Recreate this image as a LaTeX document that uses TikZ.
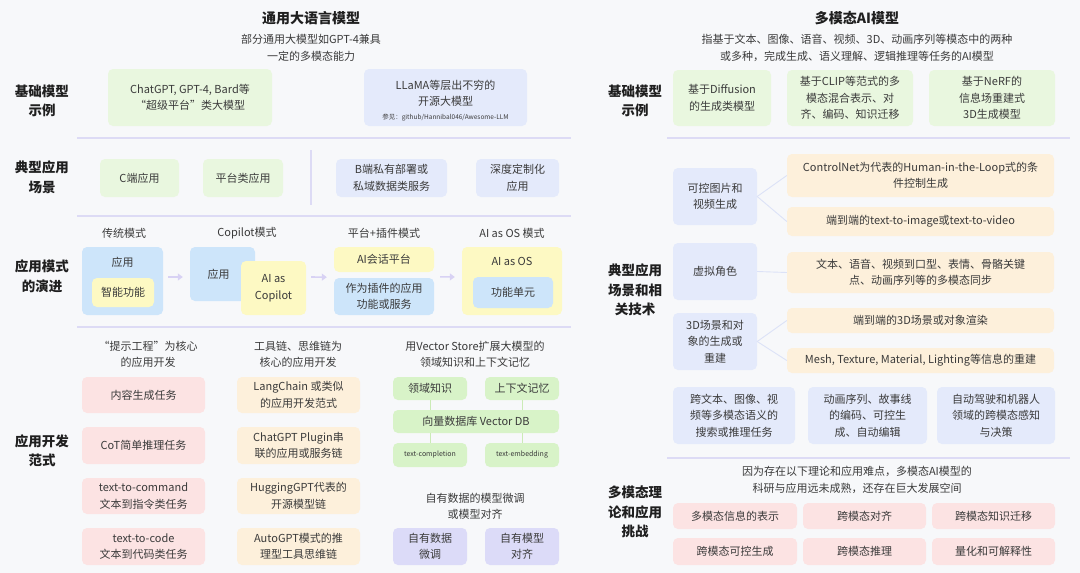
\documentclass[tikz,border=0pt]{standalone}
\usepackage{fontspec}
\setmainfont{Noto Sans CJK SC}
\usetikzlibrary{arrows.meta}
\definecolor{bg}{HTML}{F7F8FA}
\definecolor{gLight}{HTML}{E9F7DF}
\definecolor{bLight}{HTML}{E4EAFB}
\definecolor{mBlue}{HTML}{CDE5FA}
\definecolor{yel}{HTML}{FDF9C3}
\definecolor{pinkc}{HTML}{FCE3E3}
\definecolor{peach}{HTML}{FDF0DB}
\definecolor{vGreen}{HTML}{D8F3C8}
\definecolor{purp}{HTML}{DCDBF8}
\definecolor{divc}{HTML}{DDDBF5}
\definecolor{arrc}{HTML}{D8D2F4}
\definecolor{connc}{HTML}{DCE2F7}
\definecolor{vconn}{HTML}{CBEBB6}
\definecolor{txt}{HTML}{3A3A3A}
\definecolor{dark}{HTML}{1F1F1F}
\newcommand\fsz[2]{\fontsize{#1}{#2}\selectfont}
\newcommand\bx[7]{\node[rbox, fill=#6, minimum width={(#4)-(#2)}, minimum height={(#5)-(#3)}] (#1) at ({((#2)+(#4))/2},{((#3)+(#5))/2}) {#7};}
\begin{document}
\begin{tikzpicture}[x=1pt,y=-1pt,
  rbox/.style={rounded corners=5pt, align=center, inner sep=0pt, text=txt, font=\fsz{11}{16.5}},
  lab/.style={align=center, font=\bfseries\fsz{13.5}{19.5}, text=dark},
  ttl/.style={font=\bfseries\fsz{14}{18}, text=dark},
  plain/.style={align=center, font=\fsz{11}{16.5}, text=txt},
  divl/.style={draw=divc, line width=1.2pt},
  arr/.style={draw=arrc, line width=1.6pt, -{Triangle[length=5pt,width=7pt]}},
  conn/.style={draw=connc, line width=0.9pt},
  vc/.style={draw=vconn, line width=0.9pt}]
\fill[bg] (0,0) rectangle (1080,573);
\useasboundingbox (0,0) rectangle (1080,573);

% ---------- left titles ----------
\node[ttl] (t1) at (311,18) {通用大语言模型};
\node[plain] (s1) at (311,48) {部分通用大模型如GPT-4兼具\\一定的多模态能力};

% row labels left
\node[lab] (l1) at (42,101) {基础模型\\示例};
\node[lab] (l2) at (42,177.5) {典型应用\\场景};
\node[lab] (l3) at (42,276.5) {应用模式\\的演进};
\node[lab] (l4) at (42,451) {应用开发\\范式};

% dividers left
\draw[divl] (77,138) -- (571,138);
\draw[divl] (77,216) -- (571,216);
\draw[divl] (77,327) -- (571,327);

% row 1
\bx{chat}{108}{69}{272}{126}{gLight}{ChatGPT, GPT-4, Bard等\\“超级平台”类大模型}
\bx{llama}{364}{69}{527}{126}{bLight}{}
\node[plain] (llamat) at (445.5,93.5) {LLaMA等层出不穷的\\开源大模型};
\node[font=\fsz{6.5}{8}, text=txt] (llamanote) at (445.5,118) {参见：github/Hannibal046/Awesome-LLM};

% row 2
\bx{cend}{100}{159}{179}{197}{gLight}{C端应用}
\bx{plat}{203}{159}{283}{197}{gLight}{平台类应用}
\bx{bend}{336}{159}{447}{197}{bLight}{B端私有部署或\\私域数据类服务}
\bx{deep}{476}{159}{559}{197}{bLight}{深度定制化\\应用}
\draw[divl] (311,150) -- (311,205);

% row 3
\node[plain] (m1) at (124,233) {传统模式};
\node[plain] (m2) at (247,233) {Copilot模式};
\node[plain] (m3) at (384,233) {平台+插件模式};
\node[plain] (m4) at (512,233) {AI as OS 模式};
\bx{trad}{82}{247}{163}{315}{mBlue}{}
\node[plain] (tradt) at (122.5,262) {应用};
\bx{smart}{92}{278}{154}{307}{yel}{智能功能}
\bx{cop1}{190}{247}{255}{301}{mBlue}{应用\hspace*{8pt}}
\bx{cop2}{241}{261}{306}{315}{yel}{AI as\\Copilot}
\bx{chatp}{334}{247}{434}{272}{yel}{AI会话平台}
\bx{plug}{334}{278}{434}{315}{mBlue}{作为插件的应用\\功能或服务}
\bx{aios}{462}{247}{562}{315}{yel}{}
\node[plain] (aiost) at (512,261) {AI as OS};
\bx{func}{473}{277}{553}{308}{mBlue}{功能单元}
\draw[arr] ([shift={(5,-4)}]trad.east) -- ([shift={(-7,3)}]cop1.west);
\draw[arr] ([shift={(5,-11)}]cop2.east) -- ([shift={(-7,5)}]chatp.south west);
\draw[arr] ([shift={(6,-1)}]plug.north east) -- ([shift={(-7,-4)}]aios.west);

% row 4
\node[plain] (h1) at (148,354.5) {“提示工程”为核心\\的应用开发};
\node[plain] (h2) at (298,354.5) {工具链、思维链为\\核心的应用开发};
\node[plain] (h3) at (475,354.5) {用Vector Store扩展大模型的\\领域知识和上下文记忆};
\bx{p1}{82}{377}{205}{413}{pinkc}{内容生成任务}
\bx{p2}{82}{427}{205}{464}{pinkc}{CoT简单推理任务}
\bx{p3}{82}{478}{205}{514}{pinkc}{text-to-command\\文本到指令类任务}
\bx{p4}{82}{528}{205}{565}{pinkc}{text-to-code\\文本到代码类任务}
\bx{q1}{237}{377}{360}{413}{peach}{LangChain 或类似\\的应用开发范式}
\bx{q2}{237}{427}{360}{464}{peach}{ChatGPT Plugin串\\联的应用或服务链}
\bx{q3}{237}{478}{360}{514}{peach}{HuggingGPT代表的\\开源模型链}
\bx{q4}{237}{528}{360}{565}{peach}{AutoGPT模式的推\\理型工具思维链}
\bx{dk}{393}{377}{467}{400}{vGreen}{领域知识}
\bx{cm}{485}{377}{559}{400}{vGreen}{上下文记忆}
\bx{vdb}{393}{410}{559}{433}{vGreen}{向量数据库 Vector DB}
\bx{tc}{393}{443}{467}{467}{vGreen}{\fsz{7}{9}text-completion}
\bx{te}{485}{443}{559}{467}{vGreen}{\fsz{7}{9}text-embedding}
\draw[vc] (dk.south) -- (dk.south |- vdb.north);
\draw[vc] (cm.south) -- (cm.south |- vdb.north);
\draw[vc] (tc.north) -- (tc.north |- vdb.south);
\draw[vc] (te.north) -- (te.north |- vdb.south);
\node[plain] (h4) at (475,506.5) {自有数据的模型微调\\或模型对齐};
\bx{u1}{393}{528}{467}{565}{purp}{自有数据\\微调}
\bx{u2}{485}{528}{559}{565}{purp}{自有模型\\对齐}

% ---------- right ----------
\node[ttl] (t2) at (857,18) {多模态AI模型};
\node[plain] (s2) at (857,48) {指基于文本、图像、语音、视频、3D、动画序列等模态中的两种\\或多种，完成生成、语义理解、逻辑推理等任务的AI模型};
\node[lab] (r1) at (635,101) {基础模型\\示例};
\node[lab] (r2) at (635,290) {典型应用\\场景和相\\关技术};
\node[lab] (r3) at (635,512) {多模态理\\论和应用\\挑战};

\bx{f1}{673}{70}{771}{126}{gLight}{基于Diffusion\\的生成类模型}
\bx{f2}{787}{70}{913}{126}{gLight}{基于CLIP等范式的多\\模态混合表示、对\\齐、编码、知识迁移}
\bx{f3}{929}{70}{1055}{126}{gLight}{基于NeRF的\\信息场重建式\\3D生成模型}
\draw[divl] (667,138) -- (1070,138);

\bx{ctrl}{673}{168}{757}{225}{bLight}{可控图片和\\视频生成}
\bx{vr}{673}{243}{757}{300}{bLight}{虚拟角色}
\bx{tdd}{673}{313}{757}{370}{bLight}{3D场景和对\\象的生成或\\重建}
\bx{o1}{787}{154}{1054}{197}{peach}{ControlNet为代表的Human-in-the-Loop式的条\\件控制生成}
\bx{o2}{787}{207}{1054}{236}{peach}{端到端的text-to-image或text-to-video}
\bx{o3}{787}{252}{1054}{293}{peach}{文本、语音、视频到口型、表情、骨骼关键\\点、动画序列等的多模态同步}
\bx{o4}{787}{308}{1054}{333}{peach}{端到端的3D场景或对象渲染}
\bx{o5}{787}{348}{1054}{373}{peach}{Mesh, Texture, Material, Lighting等信息的重建}
\draw[conn] (ctrl.east) -- (o1.west);
\draw[conn] (ctrl.east) -- (o2.west);
\draw[conn] (vr.east) -- (o3.west);
\draw[conn] (tdd.east) -- (o4.west);
\draw[conn] (tdd.east) -- (o5.west);

\bx{w1}{673}{387}{795}{444}{bLight}{跨文本、图像、视\\频等多模态语义的\\搜索或推理任务}
\bx{w2}{808}{387}{927}{444}{bLight}{动画序列、故事线\\的编码、可控生\\成、自动编辑}
\bx{w3}{937}{387}{1055}{444}{bLight}{自动驾驶和机器人\\领域的跨模态感知\\与决策}
\draw[divl] (667,458) -- (1070,458);

\node[plain] (s3) at (857,480) {因为存在以下理论和应用难点，多模态AI模型的\\科研与应用远未成熟，还存在巨大发展空间};
\bx{c1}{673}{503}{797}{529}{pinkc}{多模态信息的表示}
\bx{c2}{803}{503}{926}{529}{pinkc}{跨模态对齐}
\bx{c3}{932}{503}{1055}{529}{pinkc}{跨模态知识迁移}
\bx{c4}{673}{538}{797}{565}{pinkc}{跨模态可控生成}
\bx{c5}{803}{538}{926}{565}{pinkc}{跨模态推理}
\bx{c6}{932}{538}{1055}{565}{pinkc}{量化和可解释性}
\end{tikzpicture}
\end{document}
